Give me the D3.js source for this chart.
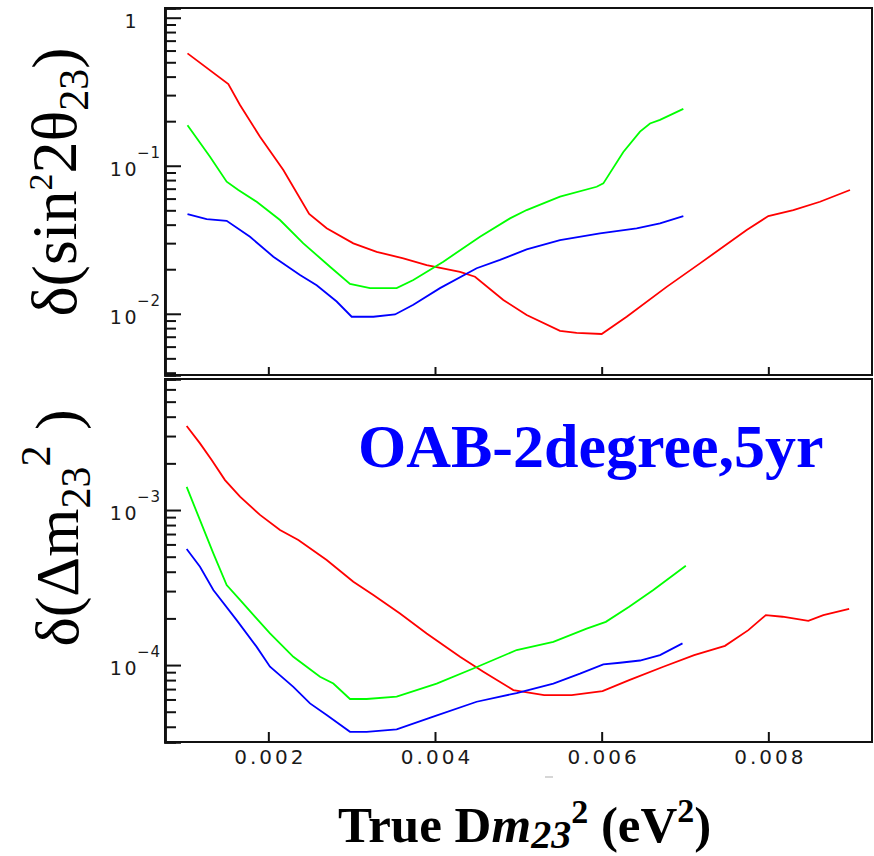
<!DOCTYPE html>
<html><head><meta charset="utf-8">
<script src="https://cdn.jsdelivr.net/npm/d3@7"></script>
<style>html,body{margin:0;padding:0;background:#fff;} svg{display:block;}</style>
</head><body>
<svg id="chart" width="874" height="856"></svg>
<script>
// ---- x axis (true Δm²23, eV²) ----
const xTickValues = [0.002, 0.004, 0.006, 0.008];
const xTickLabels = ["0.002", "0.004", "0.006", "0.008"];

// ---- decade labels on the log axes ----
const sinDecades = [1, 0.1, 0.01];
const sinDecadeBase = ["1", "10", "10"];
const sinDecadeExp = ["", "−1", "−2"];
const dmDecades = [1e-3, 1e-4];
const dmDecadeBase = ["10", "10"];
const dmDecadeExp = ["−3", "−4"];

// ---- δ(sin²2θ23) curves: [Δm², value] ----
const sinRed = [[0.00103,0.574],[0.00152,0.356],[0.00166,0.257],[0.00190,0.157],[0.00218,0.0936],
  [0.00249,0.0472],[0.00270,0.0378],[0.00302,0.0299],[0.00330,0.0262],[0.00362,0.0237],[0.00390,0.0213],
  [0.00430,0.0192],[0.00448,0.0178],[0.00482,0.0124],[0.00510,0.0098],[0.00550,0.00767],[0.00570,0.00744],
  [0.00600,0.0073],[0.00630,0.00955],[0.00678,0.0152],[0.00718,0.0219],[0.00774,0.0368],[0.00800,0.0457],
  [0.00830,0.0502],[0.00862,0.0571],[0.00898,0.0686]];
const sinGreen = [[0.00103,0.188],[0.00130,0.115],[0.00150,0.078],[0.00164,0.0685],[0.00186,0.0571],
  [0.00214,0.043],[0.00242,0.0299],[0.00274,0.0208],[0.00298,0.0159],[0.00322,0.0149],[0.00354,0.0149],
  [0.00374,0.0169],[0.00410,0.0225],[0.00454,0.0331],[0.00490,0.0441],[0.00510,0.0502],[0.00550,0.0618],
  [0.00594,0.0721],[0.00602,0.076],[0.00626,0.124],[0.00646,0.17],[0.00658,0.193],[0.00670,0.204],
  [0.00698,0.242]];
const sinBlue = [[0.00103,0.0472],[0.00126,0.0436],[0.00150,0.0425],[0.00178,0.0331],[0.00206,0.0243],
  [0.00238,0.0183],[0.00258,0.0156],[0.00282,0.0121],[0.00300,0.00955],[0.00326,0.00955],[0.00352,0.0099],
  [0.00374,0.0115],[0.00406,0.0149],[0.00450,0.0203],[0.00478,0.0231],[0.00510,0.0272],[0.00550,0.0315],
  [0.00598,0.0349],[0.00642,0.0378],[0.00670,0.0408],[0.00698,0.0457]];

// ---- δ(Δm²23) curves: [Δm², value] ----
const dmRed = [[0.00102,3.48e-3],[0.00118,2.69e-3],[0.00132,2.10e-3],[0.00148,1.56e-3],[0.00166,1.22e-3],
  [0.00190,9.3e-4],[0.00214,7.43e-4],[0.00236,6.4e-4],[0.00270,4.76e-4],[0.00302,3.45e-4],[0.00326,2.83e-4],
  [0.00358,2.15e-4],[0.00390,1.6e-4],[0.00430,1.13e-4],[0.00458,9.06e-5],[0.00494,6.9e-5],[0.00531,6.4e-5],
  [0.00564,6.4e-5],[0.00601,6.8e-5],[0.00633,8.0e-5],[0.00674,9.75e-5],[0.00711,1.16e-4],[0.00748,1.33e-4],
  [0.00776,1.68e-4],[0.00797,2.1e-4],[0.00817,2.05e-4],[0.00848,1.93e-4],[0.00866,2.1e-4],[0.00897,2.3e-4]];
const dmGreen = [[0.00102,1.41e-3],[0.00118,8.6e-4],[0.00134,5.25e-4],[0.00150,3.28e-4],[0.00166,2.63e-4],
  [0.00202,1.6e-4],[0.00230,1.13e-4],[0.00262,8.4e-5],[0.00278,7.6e-5],[0.00298,6.04e-5],[0.00318,6.04e-5],
  [0.00354,6.25e-5],[0.00402,7.6e-5],[0.00446,9.5e-5],[0.00498,1.25e-4],[0.00542,1.41e-4],[0.00582,1.72e-4],
  [0.00605,1.9e-4],[0.00633,2.38e-4],[0.00662,3.05e-4],[0.00701,4.37e-4]];
const dmBlue = [[0.00102,5.6e-4],[0.00118,4.31e-4],[0.00134,3.05e-4],[0.00162,1.95e-4],[0.00186,1.31e-4],
  [0.00202,9.75e-5],[0.00230,7.24e-5],[0.00250,5.66e-5],[0.00270,4.76e-5],[0.00298,3.71e-5],[0.00318,3.71e-5],
  [0.00354,3.85e-5],[0.00398,4.65e-5],[0.00450,5.8e-5],[0.00498,6.6e-5],[0.00542,7.6e-5],[0.00574,8.8e-5],
  [0.00602,1.01e-4],[0.00622,1.035e-4],[0.00646,1.07e-4],[0.00670,1.16e-4],[0.00697,1.38e-4]];

const seriesColors = ["#ff0000", "#00ff00", "#0000ff"];

const svg = d3.select("#chart");
const left = 165, right = 872;
const top1 = 8, bot1 = 375, top2 = 379, bot2 = 742;

const x = d3.scaleLinear().domain([0.00076, 0.009244]).range([left, right]);
const ySin = d3.scaleLog().domain([0.003859, 1.163]).range([bot1, top1]);
const yDm = d3.scaleLog().domain([3.19e-5, 7.0e-3]).range([bot2, top2]);

const tickFont = "'DejaVu Sans', sans-serif";

function panel(y, yTop, yBot, decades, bases, exps, curves, showXLabels) {
  const g = svg.append("g");
  // frame
  g.append("rect").attr("x", left).attr("y", yTop).attr("width", right - left).attr("height", yBot - yTop)
    .attr("fill", "none").attr("stroke", "#111").attr("stroke-width", 2);

  // minor and major log ticks, pointing inwards from the left axis
  const isMajor = v => decades.some(d => Math.abs(v / d - 1) < 1e-6);
  const all = y.ticks();
  const minor = all.filter(v => !isMajor(v));
  const minorAxis = g.append("g").attr("transform", `translate(${left},0)`)
    .call(d3.axisRight(y).tickValues(minor).tickSize(11).tickFormat(""));
  const majorAxis = g.append("g").attr("transform", `translate(${left},0)`)
    .call(d3.axisRight(y).tickValues(decades).tickSize(16).tickFormat(""));
  [minorAxis, majorAxis].forEach(a => {
    a.select(".domain").attr("stroke", "#111").attr("stroke-width", 2.5);
    a.selectAll(".tick line").attr("stroke", "#111").attr("stroke-width", 2);
  });

  // decade labels: mantissa with a raised exponent
  decades.forEach((d, i) => {
    const ty = y(d);
    g.append("text").attr("x", 139).attr("y", ty + 10).attr("text-anchor", "end")
      .attr("font-family", tickFont).attr("font-size", 19).attr("letter-spacing", 2.5)
      .attr("fill", "#1a1a1a").text(bases[i]);
    if (exps[i]) {
      g.append("text").attr("x", 137).attr("y", ty - 8)
        .attr("font-family", tickFont).attr("font-size", 15).attr("letter-spacing", 1)
        .attr("fill", "#1a1a1a").text(exps[i]);
    }
  });

  // x ticks pointing up from the bottom edge
  const xa = g.append("g").attr("transform", `translate(0,${yBot})`)
    .call(d3.axisTop(x).tickValues(xTickValues).tickSize(showXLabels ? 10 : 8).tickFormat(""));
  xa.select(".domain").remove();
  xa.selectAll(".tick line").attr("stroke", "#111").attr("stroke-width", 2);

  if (showXLabels) {
    xTickValues.forEach((v, i) => {
      g.append("text").attr("x", x(v) + 2).attr("y", yBot + 22).attr("text-anchor", "middle")
        .attr("font-family", tickFont).attr("font-size", 20).attr("letter-spacing", 3)
        .attr("fill", "#1a1a1a").text(xTickLabels[i]);
    });
  }

  const line = d3.line().x(d => x(d[0])).y(d => y(d[1]));
  curves.forEach((c, i) => {
    g.append("path").datum(c).attr("d", line).attr("fill", "none")
      .attr("stroke", seriesColors[i]).attr("stroke-width", 1.8);
  });
}

panel(ySin, top1, bot1, sinDecades, sinDecadeBase, sinDecadeExp, [sinRed, sinGreen, sinBlue], false);
panel(yDm, top2, bot2, dmDecades, dmDecadeBase, dmDecadeExp, [dmRed, dmGreen, dmBlue], true);

const serif = "'Liberation Serif', 'Times New Roman', serif";

// y titles
const t1 = svg.append("text").attr("transform", "translate(76,182) rotate(-90)")
  .attr("text-anchor", "middle").attr("font-family", serif).attr("font-size", 64).attr("fill", "#000");
t1.append("tspan").text("δ(sin");
t1.append("tspan").attr("font-size", 34).attr("dy", -24).text("2");
t1.append("tspan").attr("dy", 24).text("2θ");
t1.append("tspan").attr("font-size", 42).attr("dy", 12).text("23");
t1.append("tspan").attr("dy", -12).text(")");

const t2 = svg.append("text").attr("transform", "translate(78,528) rotate(-90)")
  .attr("text-anchor", "middle").attr("font-family", serif).attr("font-size", 62).attr("fill", "#000");
t2.append("tspan").text("δ(Δm");
t2.append("tspan").attr("font-size", 42).attr("dy", 12).text("23");
t2.append("tspan").attr("font-size", 42).attr("dy", -40).text("2");
t2.append("tspan").attr("dy", 28).text("\u00a0)");

// panel caption
svg.append("text").attr("x", 358).attr("y", 467).attr("font-family", serif).attr("font-weight", "bold")
  .attr("font-size", 62).attr("fill", "#0000ff").text("OAB-2degree,5yr");

// x title
const xt = svg.append("text").attr("x", 338).attr("y", 842).attr("font-family", serif)
  .attr("font-weight", "bold").attr("font-size", 51).attr("fill", "#000");
xt.append("tspan").text("True D");
xt.append("tspan").attr("font-style", "italic").text("m");
xt.append("tspan").attr("font-style", "italic").attr("font-size", 40).attr("dy", 6).text("23");
xt.append("tspan").attr("font-size", 34).attr("dy", -25).text("2");
xt.append("tspan").attr("dy", 19).text(" (eV");
xt.append("tspan").attr("font-size", 34).attr("dy", -20).text("2");
xt.append("tspan").attr("dy", 20).text(")");

// faint mark under the axis labels
svg.append("line").attr("x1", 545).attr("x2", 553).attr("y1", 777).attr("y2", 777)
  .attr("stroke", "#c8c8c8").attr("stroke-width", 1.5);
</script>
</body></html>
